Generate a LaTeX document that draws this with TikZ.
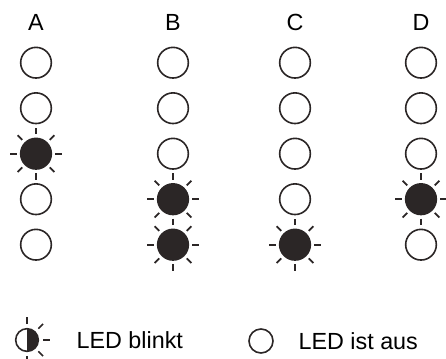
\documentclass[tikz,border=0pt]{standalone}
\usepackage{fontspec}
\setmainfont{Liberation Sans}
\usetikzlibrary{positioning}

\definecolor{ledon}{RGB}{43,38,38}
\definecolor{ledoff}{RGB}{255,255,255}

\begin{document}
\begin{tikzpicture}[
  x=0.75pt, y=-0.75pt,
  font=\fontsize{17.5}{21}\selectfont,
  led/.style={circle, draw=ledon, line width=1.2pt, minimum size=23pt, inner sep=0pt, outer sep=0pt},
  ray/.style={draw=ledon, line width=1.3pt},
  hdr/.style={inner sep=0pt},
  lbl/.style={inner sep=0pt, anchor=west},
]
\useasboundingbox (0,0) rectangle (446,358);

% LED columns
\foreach \col/\x/\states in {A/36/{ledoff,ledoff,ledon,ledoff,ledoff},
                             B/173/{ledoff,ledoff,ledoff,ledon,ledon},
                             C/295/{ledoff,ledoff,ledoff,ledoff,ledon},
                             D/421/{ledoff,ledoff,ledoff,ledon,ledoff}} {
  \node[hdr] (h\col) at (\x,22) {\col};
  \foreach \s [count=\r] in \states
    \node[led, fill=\s] (\col\r) at (\x,{17.2+45.5*\r}) {};
}

% rays around the blinking LEDs
\foreach \n in {A3,B4,B5,C5,D4}
  \foreach \a in {0,45,...,315}
    \draw[ray] ([shift={(\a:14.6pt)}]\n.center) -- ([shift={(\a:19.5pt)}]\n.center);

% legend
\node[led, minimum size=17pt, fill=white,
  path picture={\fill[ledon] (path picture bounding box.north) rectangle (path picture bounding box.south east);}]
  (blink) at (27,340) {};
\foreach \a in {-90,-45,0,45,90}
  \draw[ray, line width=1.1pt] ([shift={(\a:12pt)}]blink.center) -- ([shift={(\a:17pt)}]blink.center);
\node[lbl, right=28.5pt of blink] (blinktxt) {LED blinkt};

\node[led, minimum size=18pt, fill=white] (off) at (261,341) {};
\node[lbl, right=19pt of off] (offtxt) {LED ist aus};

\end{tikzpicture}
\end{document}
